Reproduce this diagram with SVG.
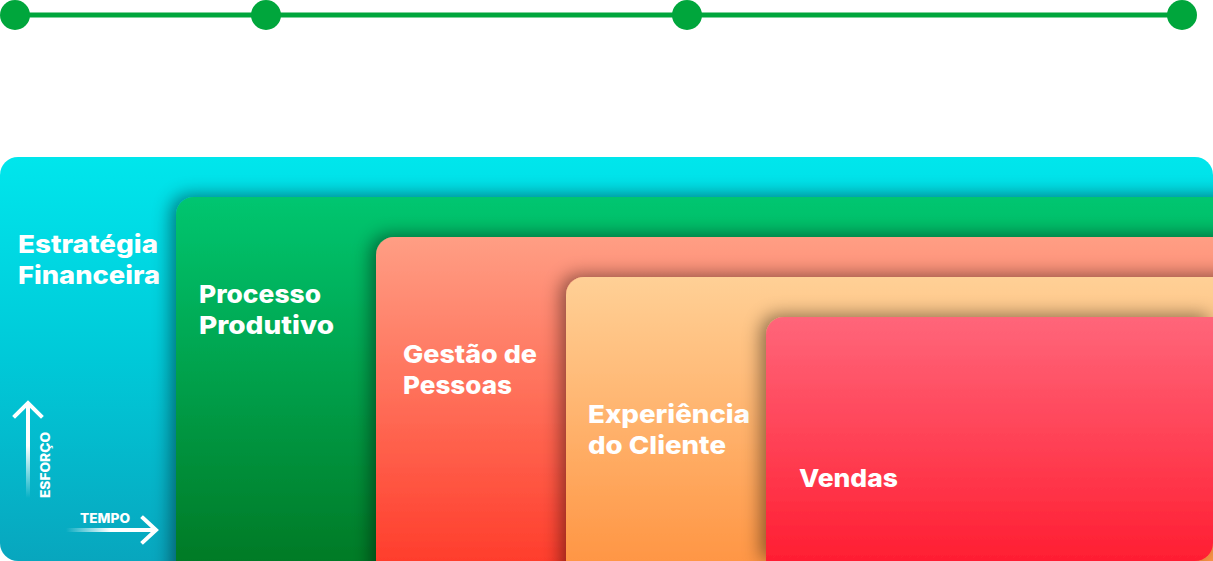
<svg xmlns="http://www.w3.org/2000/svg" width="1213" height="561" viewBox="0 0 1213 561">
  <style>
    .lbl { font-family: Inter, "Open Sans", "Liberation Sans", sans-serif; font-weight: 800; font-size: 25px; fill: #ffffff; }
    .axis { font-family: Inter, "Open Sans", "Liberation Sans", sans-serif; font-weight: 800; font-size: 13px; fill: #ffffff; }
    .dot { fill: #00A63C; }
  </style>
  <defs>
    <linearGradient id="gCyan" x1="0" y1="0" x2="0" y2="1">
      <stop offset="0" stop-color="#00E6EC"/>
      <stop offset="0.5" stop-color="#00C9D8"/>
      <stop offset="1" stop-color="#08A6BE"/>
    </linearGradient>
    <linearGradient id="gGreen" x1="0" y1="0" x2="0" y2="1">
      <stop offset="0" stop-color="#00C670"/>
      <stop offset="1" stop-color="#006E1A"/>
    </linearGradient>
    <linearGradient id="gSalmon" x1="0" y1="0" x2="0" y2="1">
      <stop offset="0" stop-color="#FF9E84"/>
      <stop offset="1" stop-color="#FF2C1C"/>
    </linearGradient>
    <linearGradient id="gOrange" x1="0" y1="0" x2="0" y2="1">
      <stop offset="0" stop-color="#FFD096"/>
      <stop offset="1" stop-color="#FF8A34"/>
    </linearGradient>
    <linearGradient id="gRed" x1="0" y1="0" x2="0" y2="1">
      <stop offset="0" stop-color="#FF667A"/>
      <stop offset="1" stop-color="#FF1E32"/>
    </linearGradient>
    <linearGradient id="gUp" gradientUnits="userSpaceOnUse" x1="0" y1="403" x2="0" y2="498">
      <stop offset="0" stop-color="#ffffff" stop-opacity="1"/>
      <stop offset="0.45" stop-color="#ffffff" stop-opacity="1"/>
      <stop offset="1" stop-color="#ffffff" stop-opacity="0"/>
    </linearGradient>
    <linearGradient id="gRight" gradientUnits="userSpaceOnUse" x1="66" y1="0" x2="155" y2="0">
      <stop offset="0" stop-color="#ffffff" stop-opacity="0"/>
      <stop offset="0.5" stop-color="#ffffff" stop-opacity="1"/>
      <stop offset="1" stop-color="#ffffff" stop-opacity="1"/>
    </linearGradient>
    <filter id="shadow" x="-8%" y="-20%" width="116%" height="140%">
      <feDropShadow dx="-5" dy="-2" stdDeviation="9" flood-color="#000000" flood-opacity="0.45"/>
    </filter>
  </defs>

  <g id="connectors">
    <line x1="15" y1="15" x2="1182" y2="15" stroke="#00A63C" stroke-width="5"/>
  </g>
  <g id="timeline-dots">
    <circle id="dot1" class="dot" cx="15" cy="15" r="15"/>
    <circle id="dot2" class="dot" cx="266" cy="15" r="15"/>
    <circle id="dot3" class="dot" cx="687" cy="15" r="15"/>
    <circle id="dot4" class="dot" cx="1182" cy="15" r="15"/>
  </g>

  <g id="estrategia-financeira">
    <path d="M0,175 A18,18 0 0 1 18,157 H1195 A18,18 0 0 1 1213,175 V561 H18 A18,18 0 0 1 0,543 Z" fill="url(#gCyan)"/>
    <text class="lbl" x="18" y="253" textLength="140" lengthAdjust="spacingAndGlyphs">Estratégia</text>
    <text class="lbl" x="18" y="284" textLength="142" lengthAdjust="spacingAndGlyphs">Financeira</text>
  </g>

  <g id="processo-produtivo">
    <path d="M176,215 A18,18 0 0 1 194,197 H1260 V620 H176 Z" fill="url(#gGreen)" filter="url(#shadow)"/>
    <text class="lbl" x="199" y="303" textLength="122" lengthAdjust="spacingAndGlyphs">Processo</text>
    <text class="lbl" x="199" y="334" textLength="135" lengthAdjust="spacingAndGlyphs">Produtivo</text>
  </g>

  <g id="gestao-de-pessoas">
    <path d="M376,255 A18,18 0 0 1 394,237 H1260 V620 H376 Z" fill="url(#gSalmon)" filter="url(#shadow)"/>
    <text class="lbl" x="403" y="363" textLength="134" lengthAdjust="spacingAndGlyphs">Gestão de</text>
    <text class="lbl" x="403" y="394" textLength="109" lengthAdjust="spacingAndGlyphs">Pessoas</text>
  </g>

  <g id="experiencia-do-cliente">
    <path d="M566,295 A18,18 0 0 1 584,277 H1260 V620 H566 Z" fill="url(#gOrange)" filter="url(#shadow)"/>
    <text class="lbl" x="588" y="423" textLength="162" lengthAdjust="spacingAndGlyphs">Experiência</text>
    <text class="lbl" x="588" y="454" textLength="138" lengthAdjust="spacingAndGlyphs">do Cliente</text>
  </g>

  <g id="vendas">
    <path d="M766,335 A18,18 0 0 1 784,317 H1213 V543 A18,18 0 0 1 1195,561 H766 Z" fill="url(#gRed)" filter="url(#shadow)"/>
    <text class="lbl" x="799" y="487" textLength="99" lengthAdjust="spacingAndGlyphs">Vendas</text>
  </g>

  <g id="axes">
    <g id="esforco-axis">
      <line x1="28" y1="404" x2="28" y2="498" stroke="url(#gUp)" stroke-width="4"/>
      <polyline points="15,416 28,403 41,416" fill="none" stroke="#ffffff" stroke-width="4" stroke-linecap="square"/>
      <text class="axis" transform="translate(50,498) rotate(-90)" textLength="66" lengthAdjust="spacingAndGlyphs">ESFORÇO</text>
    </g>
    <g id="tempo-axis">
      <line x1="66" y1="530" x2="154" y2="530" stroke="url(#gRight)" stroke-width="4"/>
      <polyline points="143,518 156,530 143,542" fill="none" stroke="#ffffff" stroke-width="4" stroke-linecap="square"/>
      <text class="axis" x="80" y="523" textLength="50" lengthAdjust="spacingAndGlyphs">TEMPO</text>
    </g>
  </g>
</svg>
